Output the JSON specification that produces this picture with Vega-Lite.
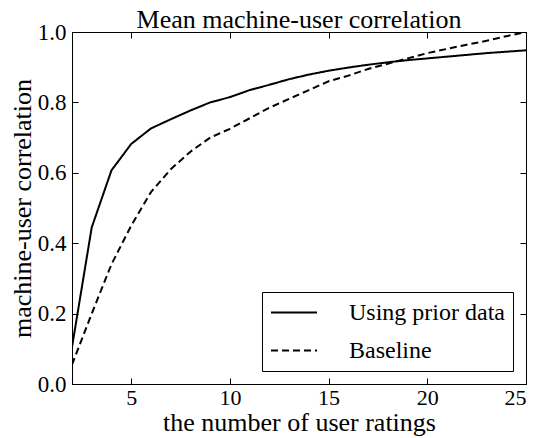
{
  "$schema": "https://vega.github.io/schema/vega-lite/v6.json",
  "width": 454,
  "height": 352,
  "autosize": {"type": "none"},
  "padding": {"left": 72, "top": 32, "right": 14, "bottom": 54},
  "background": "white",
  "title": {"text": "Mean machine-user correlation", "font": "Liberation Serif", "fontSize": 26, "fontWeight": "normal", "color": "black", "offset": -12, "anchor": "middle"},
  "config": {
    "view": {"stroke": "black", "strokeWidth": 1},
    "axis": {"grid": false, "domainColor": "black", "tickColor": "black", "tickSize": -6, "labelColor": "black", "titleColor": "black", "labelFont": "Liberation Serif", "titleFont": "Liberation Serif", "labelFontSize": 23, "titleFontSize": 26, "titleFontWeight": "normal", "labelPadding": 12},
    "legend": {"labelFont": "Liberation Serif", "labelFontSize": 24, "labelColor": "black"}
  },
  "data": {"values": [
    {"n": 2, "r": 0.105, "series": "Using prior data"},
    {"n": 3, "r": 0.445, "series": "Using prior data"},
    {"n": 4, "r": 0.607, "series": "Using prior data"},
    {"n": 5, "r": 0.682, "series": "Using prior data"},
    {"n": 6, "r": 0.726, "series": "Using prior data"},
    {"n": 7, "r": 0.752, "series": "Using prior data"},
    {"n": 8, "r": 0.777, "series": "Using prior data"},
    {"n": 9, "r": 0.8, "series": "Using prior data"},
    {"n": 10, "r": 0.815, "series": "Using prior data"},
    {"n": 11, "r": 0.835, "series": "Using prior data"},
    {"n": 12, "r": 0.85, "series": "Using prior data"},
    {"n": 13, "r": 0.866, "series": "Using prior data"},
    {"n": 14, "r": 0.879, "series": "Using prior data"},
    {"n": 15, "r": 0.89, "series": "Using prior data"},
    {"n": 16, "r": 0.899, "series": "Using prior data"},
    {"n": 17, "r": 0.907, "series": "Using prior data"},
    {"n": 18, "r": 0.914, "series": "Using prior data"},
    {"n": 19, "r": 0.92, "series": "Using prior data"},
    {"n": 20, "r": 0.925, "series": "Using prior data"},
    {"n": 21, "r": 0.93, "series": "Using prior data"},
    {"n": 22, "r": 0.935, "series": "Using prior data"},
    {"n": 23, "r": 0.94, "series": "Using prior data"},
    {"n": 24, "r": 0.944, "series": "Using prior data"},
    {"n": 25, "r": 0.948, "series": "Using prior data"},
    {"n": 2, "r": 0.055, "series": "Baseline"},
    {"n": 3, "r": 0.2, "series": "Baseline"},
    {"n": 4, "r": 0.34, "series": "Baseline"},
    {"n": 5, "r": 0.45, "series": "Baseline"},
    {"n": 6, "r": 0.545, "series": "Baseline"},
    {"n": 7, "r": 0.61, "series": "Baseline"},
    {"n": 8, "r": 0.66, "series": "Baseline"},
    {"n": 9, "r": 0.7, "series": "Baseline"},
    {"n": 10, "r": 0.725, "series": "Baseline"},
    {"n": 11, "r": 0.755, "series": "Baseline"},
    {"n": 12, "r": 0.785, "series": "Baseline"},
    {"n": 13, "r": 0.81, "series": "Baseline"},
    {"n": 14, "r": 0.835, "series": "Baseline"},
    {"n": 15, "r": 0.86, "series": "Baseline"},
    {"n": 16, "r": 0.876, "series": "Baseline"},
    {"n": 17, "r": 0.895, "series": "Baseline"},
    {"n": 18, "r": 0.91, "series": "Baseline"},
    {"n": 19, "r": 0.925, "series": "Baseline"},
    {"n": 20, "r": 0.94, "series": "Baseline"},
    {"n": 21, "r": 0.952, "series": "Baseline"},
    {"n": 22, "r": 0.964, "series": "Baseline"},
    {"n": 23, "r": 0.975, "series": "Baseline"},
    {"n": 24, "r": 0.988, "series": "Baseline"},
    {"n": 25, "r": 1.0, "series": "Baseline"}
  ]},
  "layer": [
    {
      "mark": {"type": "line", "color": "black", "strokeWidth": 2, "clip": true},
      "encoding": {
        "x": {"field": "n", "type": "quantitative", "scale": {"domain": [2, 25], "nice": false, "zero": false}, "axis": {"orient": "bottom", "values": [5, 10, 15, 20, 25], "title": "the number of user ratings", "titlePadding": 1, "labelPadding": 9, "labelFontSize": 22}},
        "y": {"field": "r", "type": "quantitative", "scale": {"domain": [0, 1], "nice": false}, "axis": {"orient": "left", "values": [0, 0.2, 0.4, 0.6, 0.8, 1.0], "format": ".1f", "title": "machine-user correlation", "titlePadding": 2}},
        "strokeDash": {"field": "series", "type": "nominal", "scale": {"domain": ["Using prior data", "Baseline"], "range": [[1, 0], [7, 4]]},
          "legend": {"title": null, "orient": "bottom-right", "offset": 13, "fillColor": "white", "strokeColor": "black", "padding": 8, "symbolType": "M-1,0H3", "symbolSize": 529, "symbolStrokeWidth": 2, "symbolStrokeColor": "black", "symbolFillColor": "transparent", "labelOffset": 54, "rowPadding": 13}}
      }
    },
    {
      "mark": {"type": "point", "opacity": 0},
      "encoding": {
        "x": {"field": "n", "type": "quantitative", "axis": {"orient": "top", "values": [5, 10, 15, 20, 25], "labels": false, "title": null}},
        "y": {"field": "r", "type": "quantitative", "axis": {"orient": "right", "values": [0, 0.2, 0.4, 0.6, 0.8, 1.0], "labels": false, "title": null}}
      }
    }
  ],
  "resolve": {"axis": {"x": "independent", "y": "independent"}}
}
